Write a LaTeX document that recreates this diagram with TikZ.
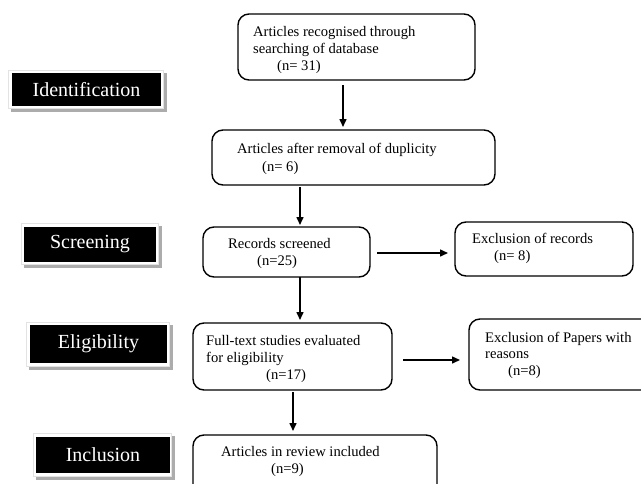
\documentclass[tikz,border=0pt]{standalone}
\usepackage{fontspec}
\setmainfont{Liberation Serif}
\usetikzlibrary{arrows.meta}
\begin{document}
\begin{tikzpicture}[x=1pt,y=-1pt,
  box/.style={draw=black, line width=1.4pt, rounded corners=11pt, inner sep=0pt, outer sep=0pt, anchor=north west},
  txt/.style={anchor=base west, inner sep=0pt, font=\fontsize{14.6}{17}\selectfont},
  lab/.style={fill=black, text=white, inner sep=0pt, outer sep=0pt, font=\fontsize{20}{24}\selectfont},
  frame/.style={fill=gray!22},
  shade/.style={fill=gray!65},
  arr/.style={line width=1.5pt, -{Triangle[length=8pt,width=7pt]}}]
\useasboundingbox (0,0) rectangle (641,483);
% label boxes
\newcommand\labbox[5]{%
  \fill[shade] (#1+3,#2+3) rectangle (#3+3,#4+3);
  \fill[frame] (#1,#2) rectangle (#3,#4);
  \fill[white] (#1+1.2,#2+1.2) rectangle (#3-1.2,#4-1.2);
}
\labbox{8}{70}{164}{109}{}
\node[lab, minimum width=149pt, minimum height=33pt] (lid) at (86.5,89.5) {Identification};
\labbox{21}{223}{159}{265}{}
\node[lab, minimum width=132pt, minimum height=35pt] (lsc) at (90,244.5) {Screening};
\labbox{26}{322}{170}{367}{}
\node[lab, minimum width=137pt, minimum height=38pt] (lel) at (98.5,344) {Eligibility};
\labbox{33}{433}{172}{477}{}
\node[lab, minimum width=134pt, minimum height=36pt] (lin) at (103,455) {Inclusion};
% boxes
\node[box, minimum width=237pt, minimum height=66pt] (b1) at (238,14) {};
\node[box, minimum width=283pt, minimum height=55pt] (b2) at (212,130) {};
\node[box, minimum width=167pt, minimum height=50pt] (b3) at (203,227) {};
\node[box, minimum width=178pt, minimum height=54pt] (b4) at (455,222) {};
\node[box, minimum width=199pt, minimum height=67pt] (b5) at (193,323) {};
\node[box, minimum width=190pt, minimum height=71pt] (b6) at (469,319) {};
\node[box, minimum width=244pt, minimum height=65pt] (b7) at (193,435) {};
% texts
\node[txt] (t1a) at (253,36) {Articles recognised through};
\node[txt] (t1b) at (253,53) {searching of database};
\node[txt] (t1c) at (277,70) {(n= 31)};
\node[txt] (t2a) at (237,153) {Articles after removal of duplicity};
\node[txt] (t2b) at (262,171) {(n= 6)};
\node[txt] (t3a) at (228,248) {Records screened};
\node[txt] (t3b) at (257,265) {(n=25)};
\node[txt] (t4a) at (472,243) {Exclusion of records};
\node[txt] (t4b) at (494,260) {(n= 8)};
\node[txt] (t5a) at (206,345) {Full-text studies evaluated};
\node[txt] (t5b) at (206,362) {for eligibility};
\node[txt] (t5c) at (266,379) {(n=17)};
\node[txt] (t6a) at (485,342) {Exclusion of Papers with};
\node[txt] (t6b) at (485,358) {reasons};
\node[txt] (t6c) at (508,375) {(n=8)};
\node[txt] (t7a) at (221,456) {Articles in review included};
\node[txt] (t7b) at (271,473) {(n=9)};
% arrows
\draw[arr, shorten <=5pt, shorten >=3pt] (b1.south -| 343,0) -- (b2.north -| 343,0);
\draw[arr, shorten <=2pt, shorten >=2pt] (b2.south -| 300,0) -- (b3.north -| 300,0);
\draw[arr, shorten <=7pt, shorten >=7pt] (b3.east |- 0,253) -- (b4.west |- 0,253);
\draw[arr, shorten <=0pt, shorten >=3pt] (b3.south -| 300,0) -- (b5.north -| 300,0);
\draw[arr, shorten <=11pt, shorten >=9pt] (b5.east |- 0,360) -- (b6.west |- 0,360);
\draw[arr, shorten <=2pt, shorten >=4pt] (b5.south -| 293,0) -- (b7.north -| 293,0);
\end{tikzpicture}
\end{document}
